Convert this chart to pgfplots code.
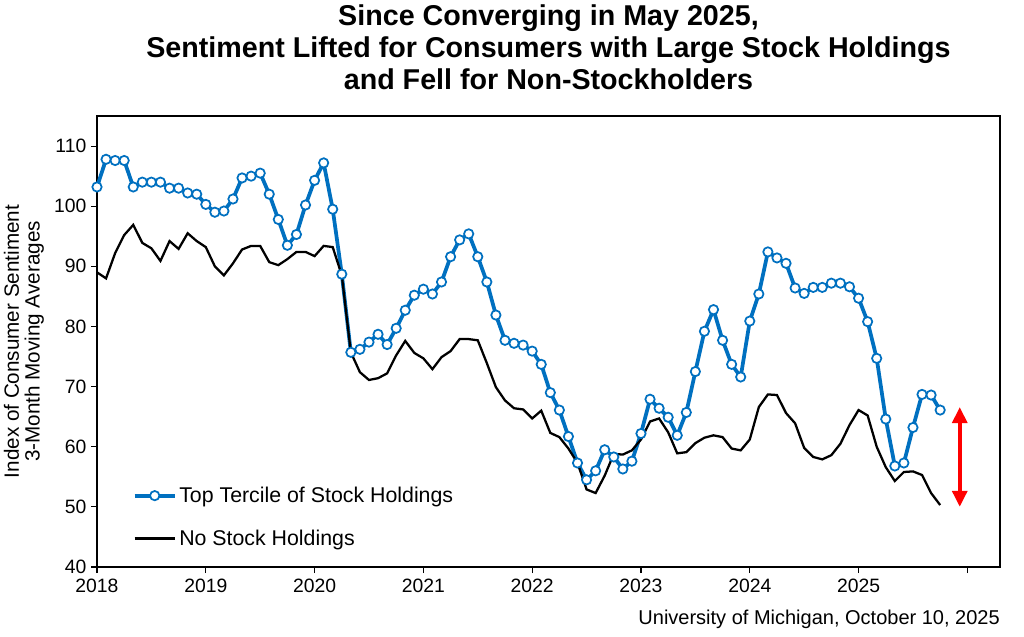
\documentclass[border=0pt]{standalone}
\usepackage{fontspec}
\setmainfont{Liberation Sans}
\usepackage{pgfplots}
\usepackage{pgfplotstable}
\pgfplotsset{compat=1.18}
\usetikzlibrary{arrows.meta}
\definecolor{umblue}{RGB}{0,112,192}

% monthly 3-month moving averages, m = months since Jan 2018
\pgfplotstableread{
m top none
0 103.2 89.0
1 107.8 88.0
2 107.6 92.2
3 107.6 95.2
4 103.2 96.9
5 104.0 93.9
6 104.0 93.0
7 104.0 90.9
8 103.0 94.2
9 103.0 92.9
10 102.2 95.5
11 102.0 94.2
12 100.3 93.2
13 99.0 90.0
14 99.2 88.5
15 101.2 90.5
16 104.7 92.8
17 105.0 93.4
18 105.5 93.4
19 102.0 90.7
20 97.8 90.2
21 93.5 91.2
22 95.3 92.4
23 100.2 92.4
24 104.3 91.7
25 107.2 93.4
26 99.5 93.2
27 88.7 88.5
28 75.7 75.7
29 76.2 72.4
30 77.4 71.1
31 78.7 71.4
32 77.0 72.2
33 79.7 75.2
34 82.7 77.6
35 85.2 75.6
36 86.2 74.7
37 85.4 72.9
38 87.4 74.9
39 91.6 75.9
40 94.4 77.9
41 95.4 77.9
42 91.6 77.7
43 87.4 73.9
44 81.9 69.9
45 77.7 67.7
46 77.2 66.4
47 76.9 66.2
48 75.9 64.7
49 73.7 66.0
50 69.0 62.3
51 66.1 61.6
52 61.7 59.7
53 57.3 57.3
54 54.5 52.9
55 56.0 52.3
56 59.5 55.2
57 58.3 58.8
58 56.3 58.7
59 57.6 59.4
60 62.2 61.2
61 67.9 64.2
62 66.4 64.7
63 64.9 62.4
64 61.9 58.9
65 65.7 59.1
66 72.5 60.6
67 79.2 61.5
68 82.8 61.9
69 77.7 61.6
70 73.7 59.7
71 71.6 59.4
72 80.9 61.2
73 85.4 66.6
74 92.4 68.7
75 91.4 68.6
76 90.5 65.6
77 86.4 63.9
78 85.5 59.8
79 86.5 58.3
80 86.5 57.9
81 87.2 58.6
82 87.2 60.5
83 86.6 63.6
84 84.7 66.1
85 80.8 65.2
86 74.7 60.0
87 64.6 56.6
88 56.8 54.3
89 57.3 55.8
90 63.2 55.9
91 68.7 55.3
92 68.6 52.3
93 66.1 50.3
}\sentiment

\begin{document}
\begin{tikzpicture}[x=1pt,y=1pt]
\useasboundingbox (-72.75,-51.75) rectangle (695.25,425.25);
\begin{axis}[
    name=ax,
    at={(0,0)}, anchor=south west,
    scale only axis,
    width=677.25pt, height=338.25pt,
    xmin=2018, xmax=2026.3,
    ymin=40, ymax=115,
    xtick={2018,2019,2020,2021,2022,2023,2024,2025,2026},
    xticklabels={2018,2019,2020,2021,2022,2023,2024,2025,{}},
    ytick={40,50,60,70,80,90,100,110},
    tick pos=left,
    tick align=outside,
    major tick length=4.5pt,
    tick style={black, line width=0.8pt},
    axis line style={black, line width=1pt},
    /pgf/number format/assume math mode=true,
    ticklabel style={font=\fontsize{14.5}{17}\selectfont},
    xticklabel style={yshift=-1pt},
    ylabel={Index of Consumer Sentiment\\3-Month Moving Averages},
    ylabel style={at={(axis description cs:-0.081,0.5)}, anchor=center,
        align=center, font=\fontsize{15.5}{15.5}\selectfont},
    title={Since Converging in May 2025,\\Sentiment Lifted for Consumers with Large Stock Holdings\\and Fell for Non-Stockholders},
    title style={at={(axis description cs:0.5,1)}, anchor=south, yshift=10pt,
        align=center, font=\fontsize{21.5}{24}\selectfont\bfseries},
    legend style={at={(axis description cs:0.035,0.19)}, anchor=north west,
        draw=none, fill=none, font=\fontsize{16}{18}\selectfont,
        row sep=15pt},
    legend cell align=left,
    legend image code/.code={%
        \draw[mark repeat=2, mark phase=2] plot coordinates {(0pt,0pt) (15pt,0pt) (30pt,0pt)};},
]
\addplot[umblue, line width=2.8pt, mark=*, mark size=3.5pt,
    mark options={fill=white, draw=umblue, line width=1.3pt}]
    table[x expr=2018+\thisrow{m}/12, y=top] {\sentiment};
\addlegendentry{Top Tercile of Stock Holdings}
\addplot[black, line width=1.7pt, no marks]
    table[x expr=2018+\thisrow{m}/12, y=none] {\sentiment};
\addlegendentry{No Stock Holdings}
\addplot[red, line width=3pt, forget plot,
    {Triangle[width=11pt,length=12pt]}-{Triangle[width=11pt,length=12pt]}]
    coordinates {(2025.93,66.6) (2025.93,50.0)};
\end{axis}
\node[anchor=base east, inner sep=0pt, font=\fontsize{15}{17}\selectfont]
    at ([yshift=-43pt]ax.south east) {University of Michigan, October 10, 2025};
\end{tikzpicture}
\end{document}
